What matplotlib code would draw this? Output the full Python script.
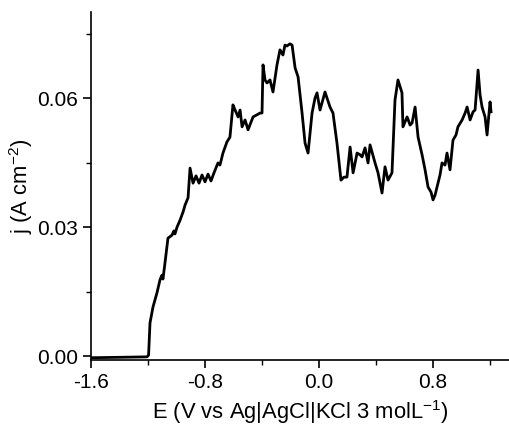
import matplotlib
matplotlib.use("Agg")
import matplotlib.pyplot as plt
from matplotlib.ticker import MultipleLocator

plt.rcParams['font.family'] = ['Liberation Sans', 'DejaVu Sans']
plt.rcParams['mathtext.default'] = 'regular'

E = [-1.600, -1.396, -1.207, -1.196, -1.186, -1.165, -1.137, -1.116, -1.102, -1.095,
     -1.081, -1.060, -1.032, -1.018, -1.011, -0.996, -0.975, -0.954, -0.940, -0.919,
     -0.905, -0.884, -0.863, -0.842, -0.821, -0.800, -0.779, -0.758, -0.737, -0.709,
     -0.695, -0.674, -0.646, -0.625, -0.604, -0.589, -0.568, -0.554, -0.540, -0.519,
     -0.498, -0.463, -0.435, -0.414, -0.400, -0.393, -0.379, -0.365, -0.344, -0.323,
     -0.295, -0.274, -0.253, -0.239, -0.225, -0.204, -0.189, -0.168, -0.147, -0.119,
     -0.098, -0.077, -0.049, -0.028, -0.014, 0.007, 0.042, 0.077, 0.098, 0.126,
     0.154, 0.175, 0.196, 0.218, 0.239, 0.267, 0.288, 0.302, 0.323, 0.344,
     0.358, 0.393, 0.414, 0.442, 0.463, 0.484, 0.512, 0.533, 0.554, 0.582,
     0.589, 0.618, 0.639, 0.653, 0.674, 0.695, 0.723, 0.744, 0.765, 0.786,
     0.800, 0.814, 0.828, 0.849, 0.863, 0.884, 0.898, 0.919, 0.940, 0.961,
     0.975, 1.004, 1.025, 1.039, 1.060, 1.081, 1.095, 1.116, 1.130, 1.144,
     1.165, 1.179, 1.200, 1.207]
j = [-0.0004, -0.0003, -0.0002, 0.0002, 0.0077, 0.0114, 0.0147, 0.0177, 0.0188, 0.0179,
     0.0216, 0.0274, 0.0281, 0.0291, 0.0284, 0.0300, 0.0316, 0.0335, 0.0351, 0.0368,
     0.0437, 0.0402, 0.0419, 0.0402, 0.0421, 0.0405, 0.0423, 0.0407, 0.0426, 0.0449,
     0.0444, 0.0472, 0.0498, 0.0509, 0.0584, 0.0572, 0.0556, 0.0572, 0.0533, 0.0549,
     0.0526, 0.0556, 0.0561, 0.0565, 0.0565, 0.0677, 0.0642, 0.0635, 0.0642, 0.0614,
     0.0677, 0.0712, 0.0700, 0.0723, 0.0721, 0.0726, 0.0723, 0.0670, 0.0649, 0.0565,
     0.0495, 0.0472, 0.0565, 0.0600, 0.0612, 0.0572, 0.0614, 0.0579, 0.0565, 0.0495,
     0.0409, 0.0416, 0.0416, 0.0486, 0.0426, 0.0472, 0.0468, 0.0463, 0.0484, 0.0449,
     0.0491, 0.0449, 0.0426, 0.0379, 0.0440, 0.0409, 0.0426, 0.0595, 0.0642, 0.0612,
     0.0533, 0.0556, 0.0537, 0.0542, 0.0579, 0.0509, 0.0468, 0.0433, 0.0393, 0.0381,
     0.0363, 0.0374, 0.0393, 0.0421, 0.0449, 0.0444, 0.0472, 0.0433, 0.0502, 0.0514,
     0.0533, 0.0549, 0.0565, 0.0579, 0.0549, 0.0568, 0.0572, 0.0665, 0.0607, 0.0579,
     0.0556, 0.0514, 0.0591, 0.0568]

xticks = [-1.6, -0.8, 0.0, 0.8]
yticks = [0.00, 0.03, 0.06]

fig = plt.figure(figsize=(5.10, 4.29), dpi=100)
ax = fig.add_axes([91/510, 69/429, 419/510, 348/429])
ax.plot(E, j, color='black', lw=2.0)

ax.set_xlim(-1.6, 1.34)
ax.set_ylim(-0.00093, 0.080)
ax.set_xticks(xticks)
ax.set_xticklabels(['%.1f' % v for v in xticks])
ax.set_yticks(yticks)
ax.set_yticklabels(['%.2f' % v for v in yticks])
ax.xaxis.set_minor_locator(MultipleLocator(0.4))
ax.yaxis.set_minor_locator(MultipleLocator(0.015))

for s in ['top', 'right']:
    ax.spines[s].set_visible(False)
for s in ['left', 'bottom']:
    ax.spines[s].set_linewidth(1.2)
ax.tick_params(which='major', direction='out', length=6, width=1.2, labelsize=15, pad=3)
ax.tick_params(which='minor', direction='out', length=3.5, width=1.0)

ax.set_xlabel('E (V vs Ag|AgCl|KCl 3 molL$^{-1}$)', fontsize=15.8, labelpad=5)
ax.set_ylabel('j (A cm$^{-2}$)', fontsize=15.8, labelpad=2)

fig.savefig('out.png', dpi=100)
